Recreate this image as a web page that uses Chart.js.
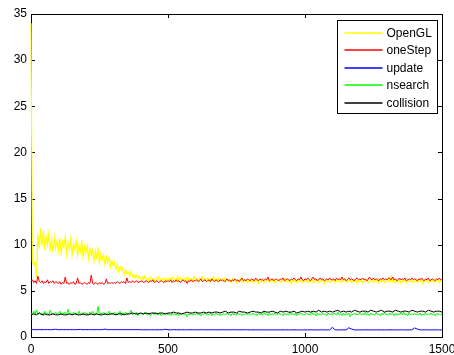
<!DOCTYPE html>
<html>
<head>
<meta charset="utf-8">
<script src="https://cdn.jsdelivr.net/npm/chart.js@4/dist/chart.umd.min.js"></script>
<style>
    html, body { margin: 0; padding: 0; background: #fff; }
    #quadro { width: 454px; height: 355px; }
</style>
</head>
<body>
<div id="quadro"><canvas id="grafico"></canvas></div>
<script>
// amostras a cada 5 iteracoes (0..1500) para as series ruidosas
const passoFino = 5;
// amostras a cada 10 iteracoes (0..1500)
const passoGrosso = 10;

const rotulos = ['OpenGL', 'oneStep', 'update', 'nsearch', 'collision'];
const ticksX = [0, 500, 1000, 1500];
const ticksY = [0, 5, 10, 15, 20, 25, 30, 35];

const openGL = [
    34, 8.2, 7.8, 8.1, 6.4, 11.2, 9.6, 11.8, 9.8, 11.5, 9.4, 10.9, 9.9, 11.2, 9.5, 10.6, 9.2, 10.8, 9.6, 10.4,
    9.3, 10.7, 9.1, 10.3, 9.8, 10.9, 9.0, 10.2, 9.4, 10.6, 8.9, 10.1, 9.5, 10.4, 8.8, 9.9, 9.2, 10.5, 8.7, 9.8,
    9.1, 9.9, 8.5, 9.6, 8.9, 9.4, 8.2, 9.3, 8.6, 9.5, 8.0, 9.0, 8.4, 8.9, 7.8, 8.7, 8.1, 8.6, 7.6, 8.3,
    7.7, 8.1, 7.3, 7.9, 7.1, 7.6, 7.2, 7.5, 6.8, 7.3, 6.9, 7.0, 6.6, 7.1, 6.5, 6.8, 6.4, 6.7, 6.3, 6.6,
    6.3, 6.5, 6.2, 6.6, 6.2, 6.4, 6.1, 6.5, 6.2, 6.3, 6.0, 6.4, 6.2, 6.5, 6.1, 6.3, 6.2, 6.4, 6.0, 6.3,
    6.2, 6.4, 6.1, 6.5, 6.2, 6.3, 6.0, 6.6, 6.2, 6.4, 6.1, 6.3, 6.2, 6.5, 6.0, 6.4, 6.2, 6.3, 6.1, 6.5,
    6.2, 6.3, 6.0, 6.4, 6.2, 6.5, 6.1, 6.3, 6.2, 6.4, 6.0, 6.3, 6.1, 6.5, 6.2, 6.3, 6.0, 6.4, 6.1, 6.3,
    6.2, 6.4, 6.0, 6.3, 6.1, 6.2, 5.9, 6.3, 6.1, 6.2, 5.9, 6.1, 6.0, 6.3, 5.9, 6.1, 6.0, 6.2, 5.9, 6.1,
    6.0, 6.2, 5.9, 6.1, 6.0, 6.2, 5.8, 6.1, 6.0, 6.2, 5.9, 6.0, 6.1, 6.2, 5.9, 6.1, 6.0, 6.3, 5.9, 6.0,
    6.1, 6.2, 5.9, 6.0, 6.1, 6.3, 5.9, 6.1, 6.0, 6.2, 5.8, 6.1, 6.0, 6.2, 5.9, 6.1, 6.0, 6.2, 5.9, 6.1,
    6.0, 6.2, 5.9, 6.1, 6.0, 6.3, 5.9, 6.0, 6.1, 6.2, 5.9, 6.1, 6.0, 6.2, 5.8, 6.1, 6.0, 6.2, 5.9, 6.0,
    6.1, 6.2, 5.9, 6.1, 6.0, 6.2, 5.9, 6.1, 6.0, 6.3, 5.9, 6.0, 6.1, 6.2, 5.9, 6.1, 6.0, 6.2, 5.8, 6.1,
    6.0, 6.2, 5.9, 6.1, 6.0, 6.2, 5.9, 6.0, 6.1, 6.2, 5.9, 6.1, 6.0, 6.3, 5.9, 6.1, 6.0, 6.2, 5.9, 6.1,
    6.0, 6.2, 5.9, 6.6, 6.0, 6.2, 5.9, 6.1, 6.0, 6.2, 5.8, 6.1, 6.0, 6.2, 5.9, 6.1, 6.0, 6.2, 5.9, 6.1,
    6.0, 6.2, 5.9, 6.1, 6.0, 6.2, 5.8, 6.1, 6.0, 6.2, 5.9, 6.1, 6.0, 6.2, 5.9, 6.0, 6.1, 6.2, 5.9, 6.1,
    6.0
];

const oneStep = [
    6.0, 6.2, 5.9, 6.1, 5.8, 6.6, 6.0, 5.9, 6.1, 5.8, 6.0, 5.9, 6.2, 5.8, 6.0, 5.9, 6.1, 5.8, 6.0, 5.9,
    5.8, 6.0, 5.7, 5.9, 5.8, 6.5, 5.8, 5.9, 5.7, 5.9, 5.8, 6.0, 5.7, 5.8, 6.4, 5.8, 5.9, 5.7, 5.8, 5.9,
    5.8, 5.7, 5.9, 5.8, 6.7, 5.8, 5.7, 5.9, 5.8, 5.7, 5.9, 5.8, 5.9, 5.7, 5.8, 6.3, 5.8, 5.9, 5.8, 5.9,
    5.8, 5.9, 5.8, 6.0, 5.9, 5.8, 6.0, 5.9, 6.0, 5.8, 6.4, 5.9, 6.0, 5.9, 6.1, 5.9, 6.0, 6.1, 5.9, 6.0,
    6.0, 6.1, 5.9, 6.0, 6.1, 6.0, 5.9, 6.1, 6.0, 6.2, 5.9, 6.0, 6.1, 5.9, 6.0, 6.1, 6.0, 5.9, 6.1, 6.0,
    6.1, 6.0, 6.2, 5.9, 6.1, 6.0, 6.2, 6.0, 6.1, 5.9, 6.1, 6.2, 6.0, 6.1, 5.8, 6.1, 6.0, 6.2, 6.0, 6.1,
    6.1, 6.2, 6.0, 6.1, 6.3, 6.0, 6.1, 6.2, 6.0, 6.1, 6.2, 6.0, 6.3, 6.1, 6.0, 6.2, 6.1, 6.0, 6.2, 6.1,
    6.2, 6.0, 6.1, 6.3, 6.1, 6.2, 6.0, 6.2, 6.1, 6.3, 6.1, 6.2, 6.0, 6.2, 6.4, 6.1, 6.2, 6.1, 6.3, 6.2,
    6.1, 6.3, 6.2, 6.1, 6.4, 6.2, 6.1, 6.3, 6.2, 6.2, 6.1, 6.3, 6.2, 6.5, 6.1, 6.2, 6.3, 6.1, 6.2, 6.3,
    6.2, 6.1, 6.3, 6.2, 6.4, 6.1, 6.2, 6.3, 6.2, 6.1, 6.3, 6.2, 6.4, 6.2, 6.1, 6.3, 6.2, 6.5, 6.2, 6.1,
    6.3, 6.2, 6.4, 6.2, 6.1, 6.3, 6.5, 6.2, 6.3, 6.1, 6.2, 6.4, 6.2, 6.3, 6.1, 6.2, 6.3, 6.2, 6.4, 6.2,
    6.2, 6.3, 6.1, 6.4, 6.2, 6.3, 6.2, 6.5, 6.2, 6.3, 6.1, 6.2, 6.4, 6.2, 6.3, 6.2, 6.1, 6.3, 6.4, 6.2,
    6.3, 6.2, 6.4, 6.2, 6.3, 6.1, 6.2, 6.5, 6.3, 6.2, 6.4, 6.2, 6.3, 6.2, 6.1, 6.3, 6.2, 6.4, 6.2, 6.3,
    6.2, 6.4, 6.3, 6.2, 6.5, 6.2, 6.3, 6.1, 6.2, 6.4, 6.2, 6.3, 6.2, 6.4, 6.1, 6.2, 6.3, 6.2, 6.4, 6.2,
    6.3, 6.2, 6.1, 6.3, 6.2, 6.4, 6.2, 6.1, 6.3, 6.2, 6.4, 6.1, 6.2, 6.3, 6.2, 6.1, 6.3, 6.2, 6.4, 6.2,
    6.2
];

const update = [
    0.82, 0.8, 0.79, 0.8, 0.79, 0.8, 0.8, 0.79, 0.8, 0.84, 0.79, 0.8, 0.79, 0.8, 0.79, 0.8, 0.79, 0.8, 0.82, 0.79,
    0.8, 0.79, 0.8, 0.79, 0.8, 0.79, 0.8, 0.86, 0.79, 0.8, 0.79, 0.8, 0.79, 0.8, 0.79, 0.8, 0.79, 0.8, 0.79, 0.8,
    0.78, 0.79, 0.78, 0.78, 0.79, 0.78, 0.78, 0.79, 0.78, 0.84, 0.78, 0.78, 0.79, 0.78, 0.78, 0.79, 0.78, 0.78, 0.79, 0.78,
    0.78, 0.78, 0.79, 0.78, 0.78, 0.78, 0.79, 0.78, 0.78, 0.78, 0.79, 0.78, 0.78, 0.78, 0.79, 0.78, 0.78, 0.78, 0.79, 0.78,
    0.77, 0.78, 0.77, 0.77, 0.78, 0.77, 0.77, 0.77, 0.78, 0.77, 0.77, 0.77, 0.78, 0.77, 0.77, 0.77, 0.78, 0.77, 0.77, 0.77,
    0.77, 0.77, 0.78, 0.77, 0.77, 0.77, 0.78, 0.77, 0.77, 0.77, 1.05, 0.77, 0.77, 0.77, 0.78, 0.77, 1.0, 0.86, 0.77, 0.77,
    0.77, 0.77, 0.78, 0.77, 0.77, 0.77, 0.78, 0.77, 0.77, 0.77, 0.77, 0.78, 0.77, 0.77, 0.77, 0.78, 0.77, 0.77, 0.77, 0.78,
    0.98, 0.86, 0.77, 0.77, 0.78, 0.77, 0.77, 0.77, 0.78, 0.77, 0.77
];

const nsearch = [
    2.6, 2.4, 2.8, 2.5, 2.9, 2.4, 2.7, 2.5, 2.6, 2.3, 2.8, 2.5, 2.6, 2.4, 2.9, 2.5, 2.6, 2.4, 2.7, 2.5,
    2.5, 2.8, 2.4, 2.6, 2.5, 2.7, 2.4, 3.0, 2.5, 2.6, 2.4, 2.7, 2.5, 2.6, 2.4, 2.8, 2.5, 2.6, 2.4, 2.7,
    2.5, 2.6, 2.4, 2.7, 2.5, 2.8, 2.4, 2.6, 2.5, 3.3, 2.4, 2.6, 2.5, 2.7, 2.4, 2.6, 2.5, 2.8, 2.4, 2.6,
    2.5, 2.7, 2.4, 2.6, 2.5, 2.8, 2.3, 2.6, 2.5, 2.7, 2.4, 2.5, 2.6, 2.9, 2.4, 2.6, 2.5, 2.7, 2.3, 2.6,
    2.5, 2.6, 2.4, 2.7, 2.5, 2.4, 2.6, 2.3, 2.5, 2.6, 2.4, 2.7, 2.5, 2.4, 2.6, 2.3, 2.5, 2.4, 2.6, 2.5,
    2.4, 2.5, 2.3, 2.6, 2.4, 2.5, 2.4, 2.6, 2.3, 2.5, 2.4, 2.6, 2.4, 2.5, 2.2, 2.5, 2.4, 2.6, 2.4, 2.5,
    2.4, 2.6, 2.4, 2.5, 2.3, 2.5, 2.4, 2.6, 2.4, 2.5, 2.4, 2.6, 2.3, 2.5, 2.4, 2.6, 2.4, 2.5, 2.3, 2.5,
    2.4, 2.5, 2.4, 2.6, 2.4, 2.5, 2.3, 2.6, 2.4, 2.5, 2.4, 2.6, 2.4, 2.5, 2.3, 2.5, 2.4, 2.6, 2.4, 2.5,
    2.5, 2.4, 2.6, 2.4, 2.5, 2.3, 2.6, 2.4, 2.5, 2.4, 2.7, 2.4, 2.5, 2.3, 2.6, 2.4, 2.5, 2.4, 2.6, 2.4,
    2.5, 2.6, 2.4, 2.5, 2.3, 2.6, 2.4, 2.5, 2.4, 2.7, 2.4, 2.5, 2.4, 2.6, 2.3, 2.5, 2.4, 2.6, 2.4, 2.5,
    2.4, 2.6, 2.4, 2.5, 2.4, 2.7, 2.4, 2.5, 2.3, 2.6, 2.4, 2.5, 2.4, 2.6, 2.4, 2.5, 2.3, 2.6, 2.4, 2.5,
    2.4, 2.6, 2.5, 2.4, 2.7, 2.4, 2.5, 2.3, 2.6, 2.4, 2.5, 2.4, 2.6, 2.2, 2.5, 2.4, 2.6, 2.4, 2.5, 2.4,
    2.6, 2.4, 2.5, 2.4, 2.7, 2.4, 2.5, 2.3, 2.6, 2.4, 2.5, 2.4, 2.6, 2.4, 2.5, 2.3, 2.6, 2.4, 2.7, 2.4,
    2.5, 2.4, 2.6, 2.4, 2.5, 2.3, 2.6, 2.4, 2.5, 2.4, 2.6, 2.4, 2.7, 2.4, 2.5, 2.3, 2.6, 2.4, 2.5, 2.4,
    2.6, 2.4, 2.5, 2.4, 2.6, 2.3, 2.5, 2.4, 2.6, 2.4, 2.5, 2.4, 2.6, 2.4, 2.5, 2.3, 2.6, 2.4, 2.5, 2.4,
    2.5
];

const collision = [
    2.4, 2.5, 2.4, 2.6, 2.4, 2.5, 2.4, 2.4, 2.5, 2.4, 2.4, 2.5, 2.4, 2.4, 2.5, 2.4, 2.5, 2.4, 2.4, 2.5,
    2.4, 2.4, 2.5, 2.4, 2.5, 2.4, 2.4, 2.5, 2.4, 2.5, 2.5, 2.4, 2.5, 2.5, 2.4, 2.5, 2.5, 2.6, 2.5, 2.5,
    2.6, 2.5, 2.6, 2.5, 2.6, 2.6, 2.5, 2.6, 2.6, 2.5, 2.6, 2.6, 2.7, 2.6, 2.6, 2.5, 2.6, 2.7, 2.6, 2.6,
    2.7, 2.6, 2.6, 2.7, 2.6, 2.7, 2.6, 2.7, 2.7, 2.6, 2.7, 2.8, 2.6, 2.7, 2.7, 2.6, 2.8, 2.7, 2.7, 2.6,
    2.7, 2.8, 2.7, 2.7, 2.6, 2.8, 2.7, 2.7, 2.8, 2.7, 2.6, 2.8, 2.7, 2.8, 2.7, 2.7, 2.8, 2.6, 2.7, 2.8,
    2.7, 2.8, 2.7, 2.8, 2.7, 2.9, 2.7, 2.8, 2.7, 2.8, 2.7, 2.8, 2.9, 2.7, 2.8, 2.7, 2.8, 2.7, 2.9, 2.8,
    2.7, 2.8, 2.8, 2.7, 2.9, 2.8, 2.7, 2.8, 2.9, 2.7, 2.8, 2.8, 2.7, 2.9, 2.8, 2.7, 2.8, 2.8, 2.7, 2.9,
    2.8, 2.7, 2.8, 2.8, 2.7, 2.9, 2.8, 2.7, 2.8, 2.8, 2.7
];

const cores = ['#ffff00', '#ff0000', '#0000ff', '#00ff00', '#000000'];

function pontos(valores, passo) {
    return valores.map((v, i) => ({ x: i * passo, y: v }));
}

// moldura e marcas para dentro, como no MATLAB (desenhada por baixo das linhas)
const molduraPlugin = {
    id: 'moldura',
    beforeDatasetsDraw(chart) {
        const { ctx, chartArea: a, scales } = chart;
        const tam = 4;
        ctx.save();
        ctx.strokeStyle = '#000';
        ctx.lineWidth = 1;
        ctx.beginPath();
        ticksX.forEach(v => {
            const px = Math.round(scales.x.getPixelForValue(v)) + 0.5;
            ctx.moveTo(px, a.bottom); ctx.lineTo(px, a.bottom - tam);
            ctx.moveTo(px, a.top); ctx.lineTo(px, a.top + tam);
        });
        ticksY.forEach(v => {
            const py = Math.round(scales.y.getPixelForValue(v)) + 0.5;
            ctx.moveTo(a.left, py); ctx.lineTo(a.left + tam, py);
            ctx.moveTo(a.right, py); ctx.lineTo(a.right - tam, py);
        });
        ctx.stroke();
        ctx.strokeRect(Math.round(a.left) + 0.5, Math.round(a.top) + 0.5,
            Math.round(a.right - a.left), Math.round(a.bottom - a.top));
        ctx.restore();
    }
};

const legendaPlugin = {
    id: 'legendaCaixa',
    afterDraw(chart) {
        const { ctx, chartArea: a } = chart;
        const larg = 100, alt = 93, linha = 17.4;
        const x0 = Math.round(a.right) - 5 - larg + 0.5;
        const y0 = Math.round(a.top) + 6 + 0.5;
        ctx.save();
        ctx.fillStyle = '#fff';
        ctx.fillRect(x0, y0, larg, alt);
        ctx.strokeStyle = '#000';
        ctx.lineWidth = 1;
        ctx.strokeRect(x0, y0, larg, alt);
        ctx.font = '12px "Liberation Sans", Arial, sans-serif';
        ctx.textBaseline = 'middle';
        chart.data.datasets.forEach((ds, i) => {
            const cy = Math.round(y0 + 12.5 + i * linha);
            ctx.strokeStyle = ds.borderColor;
            ctx.lineWidth = 1.3;
            ctx.beginPath();
            ctx.moveTo(x0 + 7, cy);
            ctx.lineTo(x0 + 45, cy);
            ctx.stroke();
            ctx.fillStyle = '#000';
            ctx.fillText(ds.label, x0 + 49, cy + 0.5);
        });
        ctx.restore();
    }
};

const series = [
    pontos(openGL, passoFino),
    pontos(oneStep, passoFino),
    pontos(update, passoGrosso),
    pontos(nsearch, passoFino),
    pontos(collision, passoGrosso)
];

Chart.defaults.font.family = '"Liberation Sans", Arial, sans-serif';
Chart.defaults.font.size = 12;
Chart.defaults.color = '#000';

new Chart(document.getElementById('grafico'), {
    type: 'line',
    data: {
        datasets: series.map((dados, i) => ({
            label: rotulos[i],
            data: dados,
            borderColor: cores[i],
            borderWidth: i === 0 ? 1.2 : 1,
            pointRadius: 0,
            tension: 0,
            fill: false,
            clip: false,
            order: 5 - i
        }))
    },
    options: {
        responsive: true,
        maintainAspectRatio: false,
        animation: false,
        events: [],
        layout: { padding: { top: 14, right: 12, left: 0, bottom: 0 } },
        plugins: { legend: { display: false }, tooltip: { enabled: false } },
        scales: {
            x: {
                type: 'linear',
                min: 0,
                max: 1500,
                border: { display: false },
                grid: { display: false, drawTicks: false },
                afterBuildTicks: s => { s.ticks = ticksX.map(v => ({ value: v })); },
                afterFit: s => { s.height = 18; s.paddingLeft = 0; s.paddingRight = 0; },
                ticks: { padding: 5, maxRotation: 0, autoSkip: false, callback: v => String(v) }
            },
            y: {
                min: 0,
                max: 35,
                border: { display: false },
                grid: { display: false, drawTicks: false },
                afterBuildTicks: s => { s.ticks = ticksY.map(v => ({ value: v })); },
                afterFit: s => { s.width = 31; s.paddingTop = 0; s.paddingBottom = 0; },
                ticks: { padding: 4, callback: v => String(v) }
            }
        }
    },
    plugins: [molduraPlugin, legendaPlugin]
});
</script>
</body>
</html>
